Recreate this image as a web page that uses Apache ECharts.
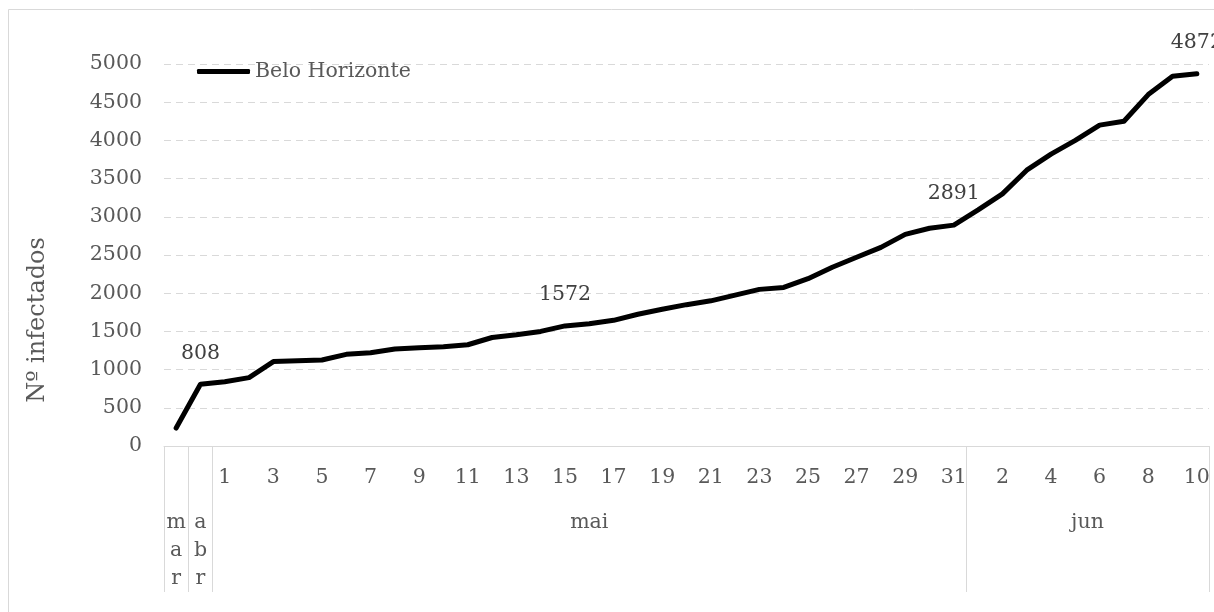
<!DOCTYPE html>
<html>
<head>
<meta charset="utf-8">
<script src="https://cdn.jsdelivr.net/npm/echarts@6/dist/echarts.min.js"></script>
<style>
  html, body { margin: 0; padding: 0; background: #fff; }
  #chart { width: 1214px; height: 612px; }
</style>
</head>
<body>
<div id="chart"></div>
<script>
// dados: casos acumulados em Belo Horizonte
const months = ["mar", "abr", "mai", "jun"];
const monthDays = [1, 1, 31, 10]; // pontos por mês
const dayLabels = [
  "", "",
  "1", "2", "3", "4", "5", "6", "7", "8", "9", "10", "11", "12", "13", "14", "15", "16",
  "17", "18", "19", "20", "21", "22", "23", "24", "25", "26", "27", "28", "29", "30", "31",
  "1", "2", "3", "4", "5", "6", "7", "8", "9", "10"
];
const infected = [
  235, 808,
  840, 895, 1105, 1115, 1125, 1200, 1220, 1270, 1285, 1300, 1325, 1420, 1455, 1500, 1572,
  1600, 1645, 1725, 1790, 1850, 1900, 1975, 2050, 2075, 2190, 2340, 2470, 2600, 2770, 2850, 2891,
  3090, 3300, 3610, 3820, 4000, 4200, 4250, 4600, 4840, 4872
];
const labelledIdx = [1, 16, 32, 42];
const yTicks = { min: 0, max: 5000, step: 500 };

const FONT = "DejaVu Serif";
const FS = 20.5;
const GREY = "#595959";
const LINE = "#d9d9d9";

// limites e centros dos meses no eixo de categorias
const bounds = [0];
const centers = [];
monthDays.forEach((n) => {
  const start = bounds[bounds.length - 1];
  centers.push(start + n / 2);
  bounds.push(start + n);
});
const total = bounds[bounds.length - 1];

const seriesData = infected.map((v, i) =>
  labelledIdx.includes(i) ? { value: v, label: { show: true } } : v
);

const chart = echarts.init(document.getElementById("chart"));

chart.setOption({
  animation: false,
  backgroundColor: "#fff",
  grid: { left: 164, right: 5, top: 64, bottom: 166 },
  legend: {
    left: 192,
    top: 56,
    icon: "roundRect",
    itemWidth: 53,
    itemHeight: 5,
    itemGap: 6,
    textStyle: { fontFamily: FONT, fontSize: FS, color: GREY },
    data: ["Belo Horizonte"]
  },
  xAxis: [
    {
      type: "category",
      data: dayLabels,
      boundaryGap: true,
      axisLine: { lineStyle: { color: LINE, width: 1 } },
      axisTick: { show: false },
      axisLabel: {
        interval: 1,
        margin: 21,
        fontFamily: FONT,
        fontSize: FS,
        color: GREY
      }
    },
    {
      type: "value",
      position: "bottom",
      min: 0,
      max: total,
      axisLine: { show: false },
      splitLine: { show: false },
      axisTick: {
        show: true,
        customValues: bounds,
        length: 146,
        lineStyle: { color: LINE, width: 1 }
      },
      axisLabel: {
        customValues: centers,
        margin: 63,
        verticalAlign: "top",
        lineHeight: 28,
        fontFamily: FONT,
        fontSize: FS,
        color: GREY,
        formatter: (val) => {
          const k = centers.indexOf(val);
          if (k < 0) return "";
          const name = months[k];
          return monthDays[k] === 1 ? name.split("").join("\n") : name;
        }
      }
    }
  ],
  yAxis: {
    type: "value",
    min: yTicks.min,
    max: yTicks.max,
    interval: yTicks.step,
    axisLine: { show: false },
    axisTick: { show: false },
    axisLabel: {
      margin: 22,
      fontFamily: FONT,
      fontSize: FS,
      color: GREY,
      formatter: (v) => String(v)
    },
    splitLine: { lineStyle: { color: LINE, type: [7, 5], width: 1 } }
  },
  series: [
    {
      name: "Belo Horizonte",
      type: "line",
      xAxisIndex: 0,
      data: seriesData,
      symbol: "circle",
      symbolSize: 1,
      itemStyle: { color: "#000" },
      lineStyle: { color: "#000", width: 5, cap: "round", join: "round" },
      label: {
        show: false,
        position: "top",
        distance: 20,
        fontFamily: FONT,
        fontSize: FS,
        color: "#404040"
      }
    }
  ],
  graphic: [
    {
      type: "rect",
      shape: { x: 8.5, y: 9.5, width: 1220, height: 620 },
      style: { fill: "none", stroke: LINE, lineWidth: 1 },
      silent: true
    },
    {
      type: "text",
      x: 38,
      y: 320,
      rotation: Math.PI / 2,
      style: {
        text: "Nº infectados",
        fontFamily: FONT,
        fontSize: 24,
        fill: GREY,
        align: "center",
        verticalAlign: "middle"
      }
    }
  ]
});
</script>
</body>
</html>
